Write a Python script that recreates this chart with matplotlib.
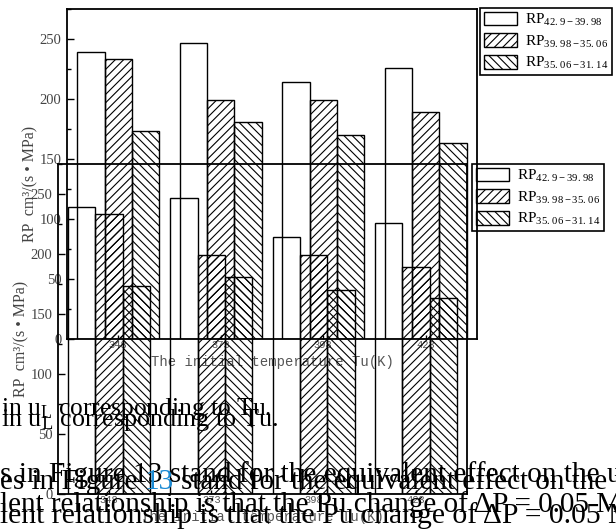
import numpy as np
import matplotlib
matplotlib.use("Agg")
import matplotlib.pyplot as plt
from matplotlib.ticker import MultipleLocator

# values (both ghosted copies show the same chart)
temps = ["348", "373", "398", "423"]
rp_high = [239, 247, 214, 226]   # RP 42.9-39.98
rp_mid = [233, 199, 199, 189]    # RP 39.98-35.06
rp_low = [173, 181, 170, 163]    # RP 35.06-31.14
series_labels = [r"RP$_{\rm 42.\,9-39.\,98}$",
                 r"RP$_{\rm 39.\,98-35.\,06}$",
                 r"RP$_{\rm 35.\,06-31.\,14}$"]
x_label = "The initial temperature Tu(K)"
y_label = "RP  cm³/(s • MPa)"

# stray page text lines that overlap the chart
line_1 = r"in u$_{\rm L}$ corresponding to Tu."
line_2a = "s in Figure 13 stand for the equivalent effect on the u"
line_2b = ["es in Figure", "13", "stand for the equivalent effect on the u"]
line_3 = "lent relationship is that the Pu change of ΔP = 0.05 M"

plt.rcParams['mathtext.fontset'] = 'custom'
plt.rcParams['mathtext.rm'] = 'Liberation Serif'
plt.rcParams['mathtext.it'] = 'Liberation Serif:italic'
plt.rcParams['hatch.linewidth'] = 0.8
plt.rcParams['font.family'] = ['Liberation Serif', 'DejaVu Serif']

W, H = 616, 532
fig = plt.figure(figsize=(W / 100, H / 100), dpi=100)


def px_axes(left, top, right, bottom):
    return fig.add_axes([left / W, 1 - bottom / H, (right - left) / W, (bottom - top) / H])


def draw_chart(ax, leg_x, leg_y):
    ax.set_facecolor('none')
    x = np.arange(len(temps))
    w = 0.267
    hatches = ['', '////', '\\\\\\\\']
    for off, vals, h, lab in zip([-w, 0, w], [rp_high, rp_mid, rp_low], hatches, series_labels):
        ax.bar(x + off, vals, w, facecolor='none', edgecolor='black',
               linewidth=1.0, hatch=h, label=lab)
    ax.set_xlim(-0.5, 3.5)
    ax.set_ylim(0, 275)
    ax.set_xticks(x)
    ax.set_xticklabels(temps, family='Liberation Mono', fontsize=7.5, color='#555555')
    ax.yaxis.set_major_locator(MultipleLocator(50))
    ax.yaxis.set_minor_locator(MultipleLocator(25))
    ax.tick_params(direction='in', which='both', width=1.0)
    ax.tick_params(axis='y', which='major', length=5, pad=4, labelsize=10.5, labelcolor='#444444')
    ax.tick_params(axis='y', which='minor', length=3)
    ax.tick_params(axis='x', length=3, pad=1)
    for s in ax.spines.values():
        s.set_linewidth(1.3)
    ax.set_xlabel(x_label, family='Liberation Mono', fontsize=10, color='#555555', labelpad=3)
    ax.set_ylabel(y_label, fontsize=11.5, color='#444444')
    ax.yaxis.set_label_coords(-0.07, 0.47)
    leg = ax.legend(loc='upper left', bbox_to_anchor=(leg_x / W, 1 - leg_y / H),
                    bbox_transform=fig.transFigure, borderaxespad=0, fancybox=False,
                    edgecolor='black', facecolor='none', framealpha=1, fontsize=11,
                    handlelength=2.2, handleheight=1.0, handletextpad=0.5,
                    labelspacing=0.35, borderpad=0.25)
    leg.get_frame().set_linewidth(1.2)


ax1 = px_axes(67, 9, 477, 339)
draw_chart(ax1, 480, 8)
ax2 = px_axes(58, 164, 467, 494)
draw_chart(ax2, 472, 164)

renderer = fig.canvas.get_renderer()


def ink_width(s, size):
    t = fig.text(0, 0, s, fontsize=size)
    wd = t.get_window_extent(renderer).width
    t.remove()
    return wd


def fit(s, target):
    # font size that makes the line about as wide as in the picture
    return 10 * target / ink_width(s, 10)


def put(x, y, s, size, color='black'):
    fig.text(x / W, 1 - y / H, s, fontsize=size, color=color, va='baseline', ha='left')


# first (upper) copy of the page text
put(1, 415, line_1, fit(line_1, 272))
put(0, 482, line_2a, fit(line_2a, 622))
put(0, 512, line_3, fit(line_3, 624))

# second (lower) copy, slightly larger, with the blue figure link
put(1, 426, line_1, fit(line_1, 279))
full_2b = " ".join(line_2b)
size2 = fit(full_2b, 630)
x0 = 0
put(x0, 489, line_2b[0], size2)
x13 = x0 + ink_width(line_2b[0] + " 1", size2) - ink_width("1", size2)
put(x13, 489, line_2b[1], size2, color='#1a8ad4')
xs = x0 + ink_width(line_2b[0] + " 13 s", size2) - ink_width("s", size2)
put(xs, 489, line_2b[2], size2)
put(0, 523, line_3, fit(line_3, 634))

fig.savefig("out.png", dpi=100)
